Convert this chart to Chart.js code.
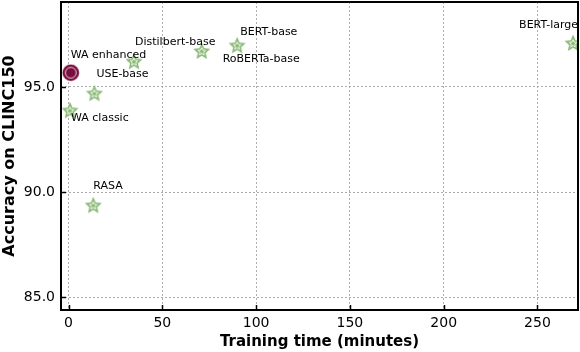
<!DOCTYPE html>
<html>
<head>
<meta charset="utf-8">
<script src="https://cdn.jsdelivr.net/npm/chart.js@4"></script>
<style>
  html, body { margin: 0; padding: 0; background: #fff; }
  #wrap { width: 580px; height: 352px; }
</style>
</head>
<body>
<div id="wrap"><canvas id="chart"></canvas></div>
<script>
// models
const models = ["WA classic", "USE-base", "Distilbert-base", "RoBERTa-base", "BERT-base", "RASA", "BERT-large"];
const trainMinutes = [0.8, 13.8, 34.9, 71, 89.9, 13.2, 269];
const accuracy = [93.89, 94.7, 96.22, 96.71, 96.98, 89.38, 97.09];

const ourModel = ["WA enhanced"];
const ourMinutes = [1.2];
const ourAccuracy = [95.68];

const xTicks = [0, 50, 100, 150, 200, 250];
const yTicks = [85, 90, 95];

// label placement relative to the marker (px): [dx, dy of text middle]
const labelOffsets = {
  "WA classic": [1, 8],
  "USE-base": [2, -19],
  "Distilbert-base": [1, -19],
  "RoBERTa-base": [21, 8],
  "BERT-base": [3, -13],
  "RASA": [0, -19],
  "BERT-large": [-54, -18],
  "WA enhanced": [0, -18],
};

const FONT = "'DejaVu Sans', sans-serif";

function starPath(ctx, cx, cy, outer, inner) {
  ctx.beginPath();
  for (let i = 0; i < 10; i++) {
    const r = i % 2 === 0 ? outer : inner;
    const a = -Math.PI / 2 + (i * Math.PI) / 5;
    const px = cx + r * Math.cos(a);
    const py = cy + r * Math.sin(a);
    if (i === 0) ctx.moveTo(px, py);
    else ctx.lineTo(px, py);
  }
  ctx.closePath();
}

function makeStar() {
  const c = document.createElement("canvas");
  c.width = 20;
  c.height = 20;
  const ctx = c.getContext("2d");
  starPath(ctx, 10, 10.6, 9, 4.2);
  ctx.fillStyle = "#8aba76";
  ctx.fill();
  starPath(ctx, 10, 10.6, 4, 1.9);
  ctx.strokeStyle = "rgba(255,255,255,0.85)";
  ctx.lineWidth = 1;
  ctx.stroke();
  return c;
}

function makeDot() {
  const c = document.createElement("canvas");
  c.width = 18;
  c.height = 18;
  const ctx = c.getContext("2d");
  ctx.beginPath();
  ctx.arc(9, 9, 8.3, 0, 2 * Math.PI);
  ctx.fillStyle = "#7a0c3c";
  ctx.fill();
  ctx.beginPath();
  ctx.arc(9, 9, 5.4, 0, 2 * Math.PI);
  ctx.strokeStyle = "#fff";
  ctx.lineWidth = 0.8;
  ctx.stroke();
  return c;
}

const frameAndLabels = {
  id: "frameAndLabels",
  afterDatasetsDraw: (chart) => {
    const { ctx, chartArea, scales } = chart;

    // point labels
    ctx.save();
    ctx.font = `11px ${FONT}`;
    ctx.fillStyle = "#000";
    ctx.textAlign = "left";
    ctx.textBaseline = "middle";
    chart.data.datasets.forEach((ds) => {
      ds.data.forEach((p) => {
        const [dx, dy] = labelOffsets[p.name] || [0, -18];
        ctx.fillText(p.name, scales.x.getPixelForValue(p.x) + dx, scales.y.getPixelForValue(p.y) + dy);
      });
    });
    ctx.restore();

    // inward ticks
    ctx.save();
    ctx.strokeStyle = "#000";
    ctx.lineWidth = 1.5;
    ctx.beginPath();
    xTicks.forEach((v) => {
      const px = Math.round(scales.x.getPixelForValue(v)) + 0.5;
      ctx.moveTo(px, chartArea.bottom);
      ctx.lineTo(px, chartArea.bottom - 5);
    });
    yTicks.forEach((v) => {
      const py = Math.round(scales.y.getPixelForValue(v)) + 0.5;
      ctx.moveTo(chartArea.left, py);
      ctx.lineTo(chartArea.left + 5, py);
    });
    ctx.stroke();

    // frame
    ctx.lineWidth = 2;
    ctx.strokeRect(chartArea.left, chartArea.top, chartArea.right - chartArea.left, chartArea.bottom - chartArea.top);
    ctx.restore();
  },
};

const starImg = makeStar();
const dotImg = makeDot();

const others = models.map((name, i) => ({ x: trainMinutes[i], y: accuracy[i], name }));
const ours = ourModel.map((name, i) => ({ x: ourMinutes[i], y: ourAccuracy[i], name }));

new Chart(document.getElementById("chart"), {
  type: "scatter",
  data: {
    datasets: [
      { data: others, pointStyle: starImg, pointRadius: 9, pointHoverRadius: 9 },
      { data: ours, pointStyle: dotImg, pointRadius: 9, pointHoverRadius: 9 },
    ],
  },
  options: {
    responsive: true,
    maintainAspectRatio: false,
    animation: false,
    layout: { autoPadding: false, padding: { top: 2, right: 2, left: 0, bottom: 0 } },
    plugins: { legend: { display: false }, tooltip: { enabled: false } },
    scales: {
      x: {
        type: "linear",
        min: -4,
        max: 271.6,
        afterBuildTicks: (scale) => {
          scale.ticks = xTicks.map((v) => ({ value: v }));
        },
        afterFit: (scale) => {
          scale.height = 42;
          scale.paddingLeft = 0;
          scale.paddingRight = 0;
        },
        ticks: {
          color: "#000",
          font: { family: FONT, size: 14 },
          padding: 5,
          maxRotation: 0,
          callback: (v) => String(v),
        },
        grid: { color: "#999", lineWidth: 0.8, drawTicks: false },
        border: { display: false, dash: [2, 2] },
        title: {
          display: true,
          text: "Training time (minutes)",
          color: "#000",
          font: { family: FONT, size: 15, weight: "bold" },
          padding: { top: 0, bottom: 1 },
        },
      },
      y: {
        type: "linear",
        min: 84.4,
        max: 99.04,
        afterBuildTicks: (scale) => {
          scale.ticks = yTicks.map((v) => ({ value: v }));
        },
        afterFit: (scale) => {
          scale.width = 61;
          scale.paddingTop = 0;
          scale.paddingBottom = 0;
        },
        ticks: {
          color: "#000",
          font: { family: FONT, size: 14 },
          padding: 6,
          callback: (v) => Number(v).toFixed(1),
        },
        grid: { color: "#999", lineWidth: 0.8, drawTicks: false },
        border: { display: false, dash: [2, 2] },
        title: {
          display: true,
          text: "Accuracy on CLINC150",
          color: "#000",
          font: { family: FONT, size: 16, weight: "bold" },
          padding: { top: 0, bottom: 1 },
        },
      },
    },
  },
  plugins: [frameAndLabels],
});
</script>
</body>
</html>
